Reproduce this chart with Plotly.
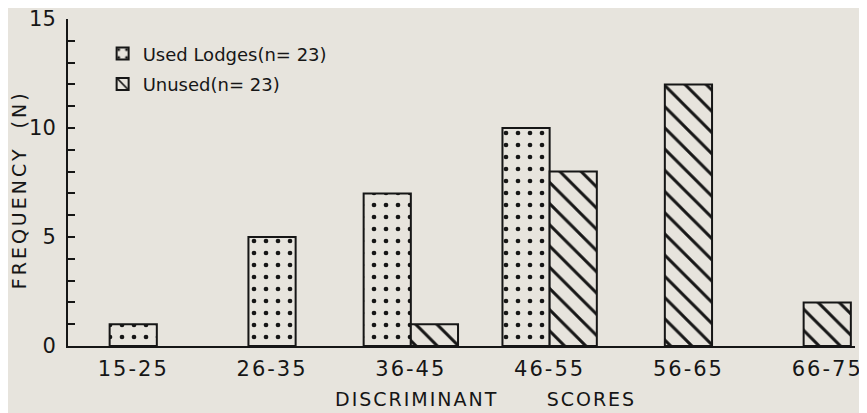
import plotly.graph_objects as go

categories = ["15-25", "26-35", "36-45", "46-55", "56-65", "66-75"]
used_lodges = [1, 5, 7, 10, 0, 0]
unused = [0, 0, 1, 8, 12, 2]
legend_used = "Used Lodges(n= 23)"
legend_unused = "Unused(n= 23)"
x_title = "DISCRIMINANT      SCORES"
y_title = "FREQUENCY  (N)"

BG = "#e7e4dd"
INK = "#161616"
FONT = "DejaVu Sans, Liberation Sans, sans-serif"
W = 0.34


def spaced(text, px):
    return f'<span style="letter-spacing:{px}px">{text}</span>'


# a bar stands centred when its partner is empty, otherwise the pair sits side by side
used_off = [-W if u2 > 0 else -W / 2 for u2 in unused]
unused_off = [0 if u1 > 0 else -W / 2 for u1 in used_lodges]
used_y = [v if v > 0 else None for v in used_lodges]
unused_y = [v if v > 0 else None for v in unused]

fig = go.Figure()
fig.add_trace(go.Bar(
    x=categories, y=used_y, name=legend_used, width=W, offset=used_off,
    legendgroup="a",
    marker=dict(color=BG, line=dict(color=INK, width=2),
                pattern=dict(shape=".", fgcolor=INK, bgcolor=BG, fgopacity=1,
                             size=12, solidity=0.12)),
))
fig.add_trace(go.Bar(
    x=categories, y=unused_y, name=legend_unused, width=W, offset=unused_off,
    legendgroup="b",
    marker=dict(color=BG, line=dict(color=INK, width=2),
                pattern=dict(shape="\\", fgcolor=INK, bgcolor=BG, fgopacity=1,
                             size=15, solidity=0.2)),
))

fig.update_layout(
    width=859, height=405,
    margin=dict(l=60, r=12, t=11, b=67),
    paper_bgcolor=BG, plot_bgcolor=BG,
    barmode="overlay",
    font=dict(family=FONT, size=18, color=INK),
    showlegend=True,
    legend=dict(x=0.044, y=0.95, xanchor="left", yanchor="top",
                bgcolor="rgba(0,0,0,0)", font=dict(size=18),
                traceorder="grouped", tracegroupgap=4),
    xaxis=dict(
        type="category", range=[-0.47, 5.2], automargin=False,
        tickmode="array", tickvals=categories,
        ticktext=[spaced(c, 2) for c in categories],
        showline=True, linecolor=INK, linewidth=2,
        ticks="", showgrid=False, zeroline=False,
        tickfont=dict(size=21), ticklabelstandoff=3,
    ),
    yaxis=dict(
        range=[0, 15], tickvals=[0, 5, 10, 15], automargin=False,
        ticklabeloverflow="allow",
        showline=True, linecolor=INK, linewidth=2,
        ticks="inside", ticklen=7, tickwidth=2, tickcolor=INK,
        minor=dict(dtick=1, ticks="inside", ticklen=7, tickwidth=2, tickcolor=INK),
        showgrid=False, zeroline=False,
        tickfont=dict(size=21), ticklabelstandoff=6,
    ),
    annotations=[
        dict(text=spaced(x_title, 2), xref="paper", yref="paper", x=0.53, y=-0.162,
             xanchor="center", yanchor="middle", showarrow=False,
             font=dict(size=19, family=FONT, color=INK)),
        dict(text=spaced(y_title, 3), xref="paper", yref="paper", x=-0.062, y=0.477,
             xanchor="center", yanchor="middle", showarrow=False, textangle=-90,
             font=dict(size=19, family=FONT, color=INK)),
    ],
)

fig.write_html("out.html")
